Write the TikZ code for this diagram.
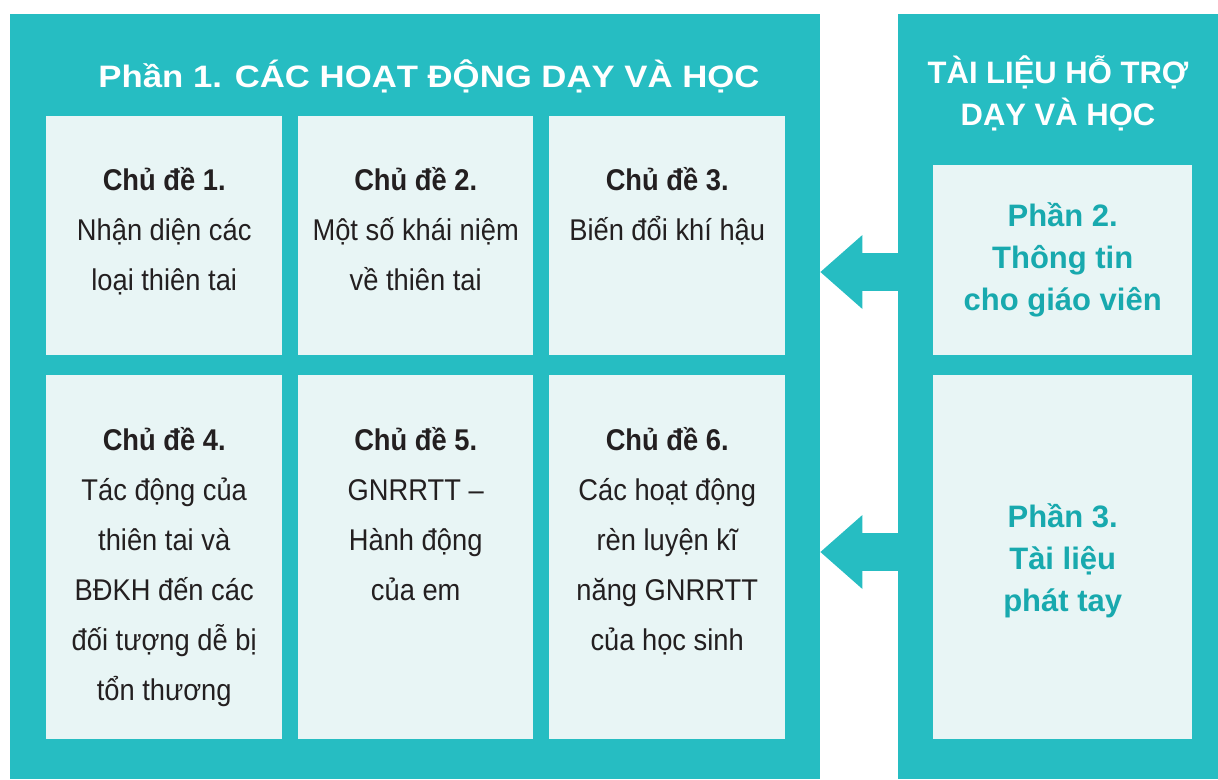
\documentclass[tikz,border=0pt]{standalone}
\usepackage{fontspec}
\setmainfont{Liberation Sans}
\newfontfamily\bodyfont[FakeStretch=0.91]{Liberation Sans}
\newfontfamily\titlefont[FakeStretch=1.12]{Liberation Sans}
\usetikzlibrary{arrows.meta}
\definecolor{panelteal}{HTML}{26BDC2}
\definecolor{cardbg}{HTML}{E8F5F5}
\definecolor{darktext}{HTML}{231F20}
\definecolor{tealtext}{HTML}{18A9AE}

\begin{document}
\begin{tikzpicture}
  [x=1pt,y=-1pt,
   panel/.style={rectangle,fill=panelteal,anchor=north west,inner sep=0},
   card/.style={rectangle,fill=cardbg,anchor=north west,inner sep=0},
   cardtext/.style={anchor=north,inner sep=0,align=center,text=darktext,
     font=\bodyfont\fontsize{30}{50}\selectfont,
     execute at begin node={\rule{0pt}{37pt}}},
   parttext/.style={inner sep=0,align=center,text=tealtext,
     font=\bfseries\fontsize{31}{42}\selectfont},
   flow/.style={draw=panelteal,line width=38pt,
     -{Triangle[length=42pt,width=74pt,line width=0pt]}}]
  \useasboundingbox (0,0) rectangle (1218,779);

  % the two panels
  \node[panel,minimum width=810pt,minimum height=765pt] (lessons) at (10,14) {};
  \node[panel,minimum width=320pt,minimum height=765pt] (support) at (898,14) {};
  \node[anchor=base,text=white,font=\titlefont\bfseries\fontsize{31}{40}\selectfont]
    (lessonstitle) at (429,87) {Phần 1. CÁC HOẠT ĐỘNG DẠY VÀ HỌC};
  \node[align=center,text=white,font=\bfseries\fontsize{31}{42}\selectfont]
    (supporttitle) at (1058,93) {TÀI LIỆU HỖ TRỢ\\DẠY VÀ HỌC};

  % topic cards
  \foreach \n/\x/\y/\w/\h in {1/46/116/236/239, 2/298/116/235/239, 3/549/116/236/239,
                              4/46/375/236/364, 5/298/375/235/364, 6/549/375/236/364}
    \node[card,minimum width=\w pt,minimum height=\h pt] (c\n) at (\x,\y) {};

  \node[cardtext] (t1) at ([yshift=-51pt]c1.north) {\textbf{Chủ đề 1.}\\Nhận diện các\\loại thiên tai};
  \node[cardtext] (t2) at ([yshift=-51pt]c2.north) {\textbf{Chủ đề 2.}\\Một số khái niệm\\về thiên tai};
  \node[cardtext] (t3) at ([yshift=-51pt]c3.north) {\textbf{Chủ đề 3.}\\Biến đổi khí hậu};
  \node[cardtext] (t4) at ([yshift=-52pt]c4.north) {\textbf{Chủ đề 4.}\\Tác động của\\thiên tai và\\BĐKH đến các\\đối tượng dễ bị\\tổn thương};
  \node[cardtext] (t5) at ([yshift=-52pt]c5.north) {\textbf{Chủ đề 5.}\\GNRRTT –\\Hành động\\của em};
  \node[cardtext] (t6) at ([yshift=-52pt]c6.north) {\textbf{Chủ đề 6.}\\Các hoạt động\\rèn luyện kĩ\\năng GNRRTT\\của học sinh};

  % support cards
  \node[card,minimum width=259pt,minimum height=190pt] (p2) at (933,165) {};
  \node[card,minimum width=259pt,minimum height=364pt] (p3) at (933,375) {};
  \node[parttext] (p2text) at (p2.center) {Phần 2.\\Thông tin\\cho giáo viên};
  \node[parttext] (p3text) at ([yshift=-4pt]p3.center) {Phần 3.\\Tài liệu\\phát tay};

  % arrows from support to lessons
  \draw[flow] (support.west |- 0,272) -- (lessons.east |- 0,272);
  \draw[flow] (support.west |- 0,552) -- (lessons.east |- 0,552);
\end{tikzpicture}
\end{document}
